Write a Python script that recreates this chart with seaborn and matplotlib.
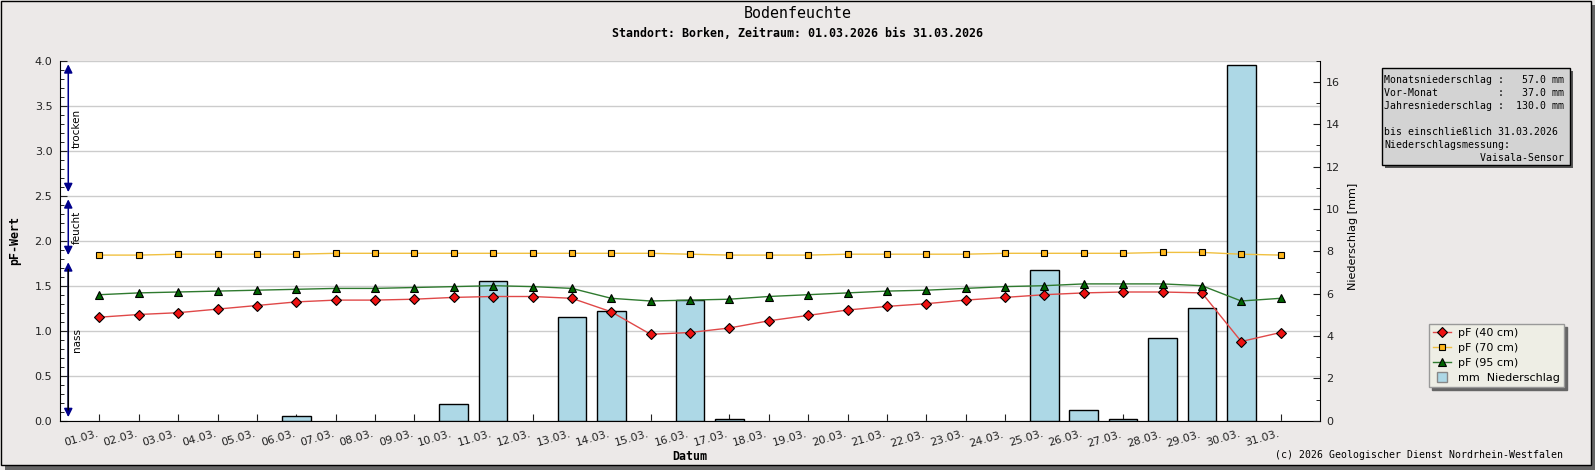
import pandas as pd
import matplotlib.pyplot as plt
import matplotlib.patches as mpatches
from matplotlib.lines import Line2D
from matplotlib.ticker import MultipleLocator
import seaborn as sns

# --- data ---
days = list(range(1, 32))
day_labels = [f"{d:02d}.03." for d in days]

pf_40cm = [1.15, 1.18, 1.20, 1.24, 1.28, 1.32, 1.34, 1.34, 1.35, 1.37, 1.38, 1.38, 1.36, 1.21, 0.96,
           0.98, 1.03, 1.11, 1.17, 1.23, 1.27, 1.30, 1.34, 1.37, 1.40, 1.42, 1.43, 1.43, 1.42, 0.88, 0.98]
pf_70cm = [1.84, 1.84, 1.85, 1.85, 1.85, 1.85, 1.86, 1.86, 1.86, 1.86, 1.86, 1.86, 1.86, 1.86, 1.86,
           1.85, 1.84, 1.84, 1.84, 1.85, 1.85, 1.85, 1.85, 1.86, 1.86, 1.86, 1.86, 1.87, 1.87, 1.85, 1.84]
pf_95cm = [1.40, 1.42, 1.43, 1.44, 1.45, 1.46, 1.47, 1.47, 1.48, 1.49, 1.50, 1.49, 1.47, 1.36, 1.33,
           1.34, 1.35, 1.38, 1.40, 1.42, 1.44, 1.45, 1.47, 1.49, 1.50, 1.52, 1.52, 1.52, 1.50, 1.33, 1.36]
niederschlag = [0, 0, 0, 0, 0, 0.2, 0, 0, 0, 0.8, 6.6, 0, 4.9, 5.2, 0, 5.7, 0.1, 0, 0, 0,
                0, 0, 0, 0, 7.1, 0.5, 0.1, 3.9, 5.3, 16.8, 0]

# moisture zones on the pF axis
zone_names = ["trocken", "feucht", "nass"]
zone_low = [2.5, 1.8, 0.0]
zone_high = [4.0, 2.5, 1.8]

info_lines = [
    "Monatsniederschlag :   57.0 mm",
    "Vor-Monat          :   37.0 mm",
    "Jahresniederschlag :  130.0 mm",
    "",
    "bis einschließlich 31.03.2026",
    "Niederschlagsmessung:",
    "                Vaisala-Sensor",
]

BG = "#ECE9E8"
MONO = "DejaVu Sans Mono"
W, H = 1595, 470

plt.rcParams["font.family"] = ["DejaVu Sans"]

fig = plt.figure(figsize=(W / 100, H / 100), dpi=100, facecolor=BG)

# frame with shadow like the original image
fig.patches.append(mpatches.Rectangle((5 / W, 0), 1 - 5 / W, 5.5 / H, transform=fig.transFigure,
                                      facecolor="#666666", edgecolor="none", zorder=-5))
fig.patches.append(mpatches.Rectangle((1590.5 / W, 0), 4.5 / W, 1 - 5 / H, transform=fig.transFigure,
                                      facecolor="#666666", edgecolor="none", zorder=-5))
fig.patches.append(mpatches.Rectangle((0.5 / W, 5.5 / H), 1590 / W, 1 - 6 / H, transform=fig.transFigure,
                                      facecolor="none", edgecolor="black", lw=1, zorder=-4))

rect = [60 / W, (H - 420.7) / H, 1260 / W, 360 / H]
ax = fig.add_axes(rect)                   # grid + left axis
ax2 = ax.twinx()                          # bars + right axis
ax3 = fig.add_axes(rect, sharex=ax, sharey=ax)  # lines on top
ax.set_zorder(0)
ax2.set_zorder(1)
ax3.set_zorder(2)
ax2.patch.set_visible(False)
ax3.patch.set_visible(False)
ax3.set_axis_off()
ax.set_facecolor("white")

# precipitation bars
rain = pd.DataFrame({"tag": days, "mm": niederschlag})
rain = rain[rain["mm"] > 0]
sns.barplot(data=rain, x="tag", y="mm", native_scale=True, width=0.73, color="#ADD8E6",
            saturation=1, edgecolor="black", linewidth=1, errorbar=None, ax=ax2)

# pF lines
series = [
    ("pF (40 cm)", pf_40cm, "#E04848", "D", "#EE1111", 5.4),
    ("pF (70 cm)", pf_70cm, "#F0C040", "s", "#FFB81C", 4.8),
    ("pF (95 cm)", pf_95cm, "#2F7A2F", "^", "#006400", 6.3),
]
handles = []
for name, vals, lcol, mk, mcol, ms in series:
    sns.lineplot(x=days, y=vals, ax=ax3, color=lcol, lw=1, marker=mk, markersize=ms,
                 markerfacecolor=mcol, markeredgecolor="black", markeredgewidth=0.8)
    handles.append(Line2D([], [], color=lcol, lw=1, marker=mk, markersize=ms,
                          markerfacecolor=mcol, markeredgecolor="black", markeredgewidth=0.8))
handles.append(Line2D([], [], lw=0, marker="s", markersize=7.5, markerfacecolor="#ADD8E6",
                      markeredgecolor="#888888"))
labels = [s[0] for s in series] + ["mm  Niederschlag"]

# moisture zone arrows
xa = 0.21
for name, lo, hi in zip(zone_names, zone_low, zone_high):
    ax3.annotate("", xy=(xa, hi - 0.04), xytext=(xa, lo + 0.04),
                 arrowprops=dict(arrowstyle="<|-|>,head_length=0.5,head_width=0.25",
                                 color="#00008B", lw=1.1, shrinkA=0, shrinkB=0, mutation_scale=10))
    if name == "nass":
        ax3.annotate("", xy=(xa, hi - 0.12), xytext=(xa, lo + 0.12),
                     arrowprops=dict(arrowstyle="-", color="black", lw=1.1, shrinkA=0, shrinkB=0))
    ax3.text(xa + 0.21, (lo + hi) / 2, name, rotation=90, ha="center", va="center", fontsize=7.5)

# axes styling
ax.set_xlim(0, 32)
ax.set_ylim(0, 4)
ax2.set_ylim(0, 17)
ax.set_xticks(days)
ax.set_xticklabels(day_labels, rotation=16, ha="right")
ax.yaxis.set_major_locator(MultipleLocator(0.5))
ax.yaxis.set_minor_locator(MultipleLocator(0.1))
ax.yaxis.set_major_formatter("{x:.1f}")
ax2.yaxis.set_major_locator(MultipleLocator(2))
ax2.yaxis.set_minor_locator(MultipleLocator(1))
ax.grid(axis="y", color="#CCCCCC", lw=1)
ax.grid(axis="x", visible=False)
ax.set_axisbelow(True)
ax.tick_params(axis="y", which="major", direction="in", length=5, labelsize=8, pad=5.5, colors="#222222")
ax.tick_params(axis="y", which="minor", direction="in", length=3)
ax.tick_params(axis="x", direction="in", length=5, labelsize=8, pad=6, colors="#222222")
ax2.tick_params(axis="y", which="major", direction="in", length=5, labelsize=8, pad=4.5, colors="#222222")
ax2.tick_params(axis="y", which="minor", direction="in", length=3)
ax2.tick_params(axis="x", bottom=False, labelbottom=False)
ax.set_xlabel("")
ax.set_ylabel("")
ax2.set_xlabel("")
ax2.set_ylabel("")
for s in ["top", "right"]:
    ax.spines[s].set_visible(False)
for s in ["top", "left", "bottom"]:
    ax2.spines[s].set_visible(False)
ax.spines["left"].set_color("black")
ax.spines["bottom"].set_color("black")
ax2.spines["right"].set_color("black")

# titles and axis labels
fig.text(797.5 / W, 1 - 14 / H, "Bodenfeuchte", ha="center", va="center", family=MONO, fontsize=10.8)
fig.text(797.5 / W, 1 - 33.7 / H, "Standort: Borken, Zeitraum: 01.03.2026 bis 31.03.2026",
         ha="center", va="center", family=MONO, weight="bold", fontsize=8.4)
fig.text(15 / W, 1 - 240.7 / H, "pF-Wert", rotation=90, ha="center", va="center",
         family=MONO, weight="bold", fontsize=8.4)
fig.text(690 / W, 1 - 456.7 / H, "Datum", ha="center", va="center", family=MONO, weight="bold", fontsize=8.4)
fig.text(1353 / W, 1 - 236.7 / H, "Niederschlag [mm]", rotation=90, ha="center", va="center", fontsize=8)
fig.text(1562.7 / W, 1 - 455 / H, "(c) 2026 Geologischer Dienst Nordrhein-Westfalen",
         ha="right", va="center", family=MONO, fontsize=7.1)

# info box
fig.patches.append(mpatches.Rectangle((1384.5 / W, 1 - 167.5 / H), 188.3 / W, 96.7 / H,
                                      transform=fig.transFigure, facecolor="#555555", edgecolor="none"))
fig.patches.append(mpatches.Rectangle((1381.7 / W, 1 - 165 / H), 188.3 / W, 96.7 / H,
                                      transform=fig.transFigure, facecolor="#D3D3D3",
                                      edgecolor="black", lw=1))
for i, line in enumerate(info_lines):
    if line:
        fig.text(1384.3 / W, 1 - (79.3 + 13.0 * i + 3.5) / H, line, ha="left", va="baseline",
                 family=MONO, fontsize=7.1)

# legend
leg = fig.legend(handles, labels, loc="upper left", bbox_to_anchor=(1429 / W, 1 - 324.3 / H),
                 bbox_transform=fig.transFigure, borderaxespad=0, fontsize=8, frameon=True,
                 fancybox=False, shadow={"color": "#666666", "alpha": 1}, facecolor="#EEEEE5",
                 edgecolor="#999999", framealpha=1, handlelength=1.6, handletextpad=0.7,
                 labelspacing=0.45, borderpad=0.35)
leg.get_frame().set_linewidth(1)

fig.savefig("out.png", dpi=100, facecolor=BG)
